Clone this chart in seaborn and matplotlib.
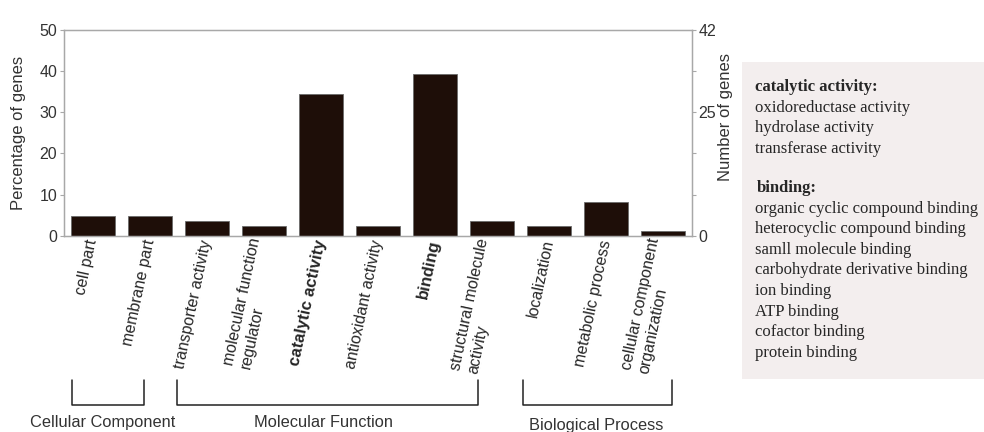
import matplotlib
matplotlib.use("Agg")
import matplotlib.pyplot as plt
import matplotlib.transforms as mtransforms
from matplotlib.patches import Rectangle
from matplotlib.ticker import FixedLocator
import seaborn as sns

# Data
categories = [
    "cell part", "membrane part", "transporter activity",
    "molecular function\nregulator", "catalytic activity", "antioxidant activity",
    "binding", "structural molecule\nactivity", "localization",
    "metabolic process", "cellular component\norganization",
]
percent = [4.8, 4.8, 3.6, 2.4, 34.5, 2.4, 39.3, 3.6, 2.4, 8.3, 1.2]
highlight = ["catalytic activity", "binding"]

groups = ["Cellular Component", "Molecular Function", "Biological Process"]

pct_ticks = [0, 10, 20, 30, 40, 50]
count_ticks = [0, 8.4, 16.8, 25.2, 33.6, 42]
count_labels = ["0", "", "", "25", "", "42"]

catalytic_terms = ["oxidoreductase activity", "hydrolase activity", "transferase activity"]
binding_terms = [
    "organic cyclic compound binding", "heterocyclic compound binding",
    "samll molecule binding", "carbohydrate derivative binding", "ion binding",
    "ATP binding", "cofactor binding", "protein binding",
]

sns.set_style("white")
plt.rcParams["font.family"] = ["Liberation Sans", "DejaVu Sans"]

fig = plt.figure(figsize=(9.84, 4.32), dpi=100)
ax = fig.add_axes([0.0653, 0.4544, 0.6377, 0.4762])

sns.barplot(x=categories, y=percent, color="#1e0e08", saturation=1,
            width=0.78, edgecolor="#6b6b6b", linewidth=0.6, ax=ax)
ax.set_xlim(-0.5, len(categories) - 0.5)
ax.set_ylim(0, 50)
ax.set_yticks(pct_ticks)
ax.set_ylabel("Percentage of genes", fontsize=12, color="#333333", labelpad=10)
ax.set_xlabel("")

gray = "#a8a8a8"
for s in ax.spines.values():
    s.set_color(gray)
    s.set_linewidth(1)

ax.tick_params(axis="y", length=3, width=0.8, color=gray, labelsize=11.5,
               labelcolor="#333333", pad=2)
ax.tick_params(axis="x", which="major", length=0, pad=3)
ax.xaxis.set_minor_locator(FixedLocator([i - 0.5 for i in range(len(categories) + 1)]))
ax.tick_params(axis="x", which="minor", length=4, width=0.8, color=gray)

ax.set_xticks(range(len(categories)))
ax.set_xticklabels(categories, rotation=78, ha="right", va="center",
                   rotation_mode="anchor", fontsize=11.5, multialignment="left")
for lab in ax.get_xticklabels():
    if lab.get_text() in highlight:
        lab.set_fontweight("bold")
        lab.set_fontsize(12)

# right axis: number of genes
ax2 = ax.twinx()
ax2.set_ylim(0, 42)
ax2.set_yticks(count_ticks)
ax2.set_yticklabels(count_labels)
ax2.set_ylabel("Number of genes", fontsize=12, color="#333333")
ax2.yaxis.set_label_coords(1.042, 0.577)
ax2.tick_params(axis="y", length=3, width=0.8, color=gray, labelsize=11.5,
                labelcolor="#333333", pad=2)
for s in ax2.spines.values():
    s.set_color(gray)

# group brackets under the labels
trans = mtransforms.blended_transform_factory(ax.transData, fig.transFigure)
spans = [(-0.37, 0.9), (1.47, 6.76), (7.54, 10.16)]
label_x = [0.18, 4.05, 8.83]
label_y = [0.023, 0.023, 0.016]
for name, (x0, x1), lx, ly in zip(groups, spans, label_x, label_y):
    ax.plot([x0, x0, x1, x1], [0.12, 0.062, 0.062, 0.12], color="#222222",
            lw=1.1, transform=trans, clip_on=False)
    ax.text(lx, ly, name, transform=trans, ha="center", va="center",
            fontsize=11.8, color="#333333")

# side box with term lists
fig.patches.append(Rectangle((742 / 984, 1 - 379 / 432), 242 / 984, 317 / 432,
                             transform=fig.transFigure, facecolor="#f3eeee",
                             edgecolor="none", zorder=0))
serif = ["Liberation Serif", "DejaVu Serif"]
fs = 12
step = 20.6
y = 87
fig.text(755 / 984, 1 - y / 432, "catalytic activity:", family=serif,
         fontsize=fs, fontweight="bold", va="center")
for t in catalytic_terms:
    y += step
    fig.text(755 / 984, 1 - y / 432, t, family=serif, fontsize=fs, va="center")
y = 188
fig.text(757 / 984, 1 - y / 432, "binding:", family=serif,
         fontsize=fs, fontweight="bold", va="center")
for t in binding_terms:
    y += step
    fig.text(755 / 984, 1 - y / 432, t, family=serif, fontsize=fs, va="center")

plt.savefig("out.png", dpi=100)
